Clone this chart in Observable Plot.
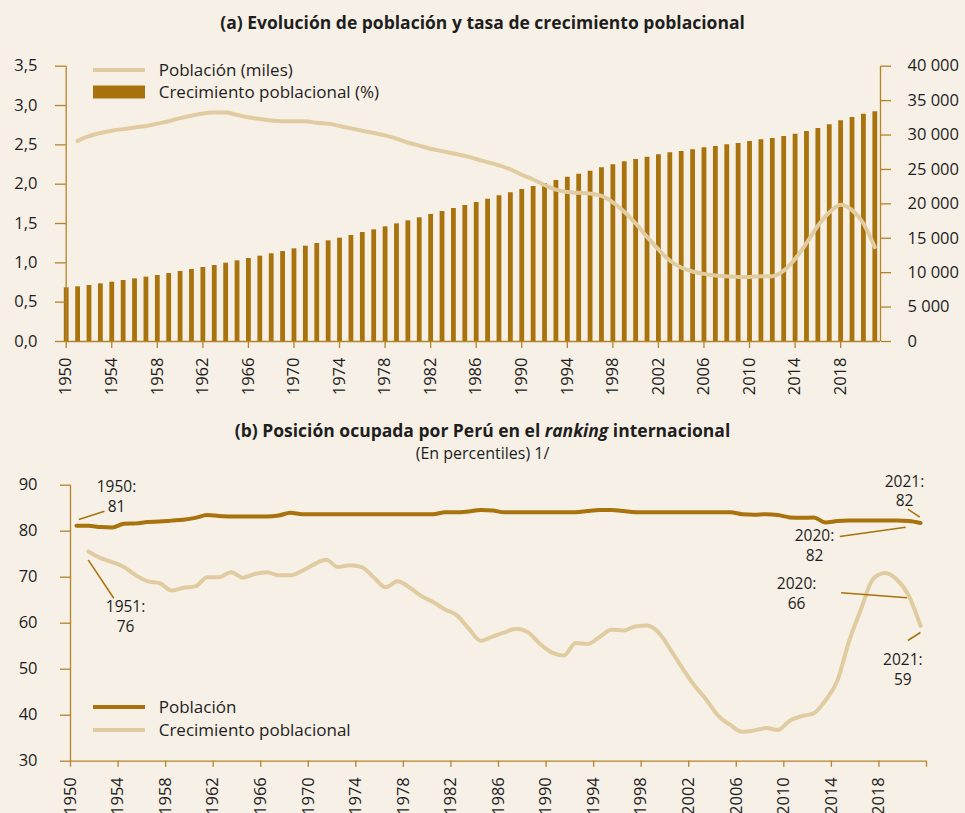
<!DOCTYPE html>
<html><head><meta charset="utf-8">
<script src="https://cdn.jsdelivr.net/npm/d3@7"></script>
<script src="https://cdn.jsdelivr.net/npm/@observablehq/plot@0.6"></script>
<style>
html,body{margin:0;padding:0;background:#F6F0E6;}
#root{position:relative;width:965px;height:813px;overflow:hidden;font-family:"Open Sans",sans-serif;color:#1e1e1e;}
.abs{position:absolute;}
.title{left:0;width:965px;text-align:center;font-weight:700;font-size:17.5px;line-height:24px;}
.sub{left:0;width:965px;text-align:center;font-size:16px;line-height:22px;}
.leg{font-size:17px;line-height:22px;display:flex;align-items:center;white-space:nowrap;}
.leg svg{margin-right:14px;}
</style></head>
<body><div id="root"></div>
<script>
// ---------- DATA ----------
const years = d3.range(1950, 2022);            // 1950..2021
const growthYears = d3.range(1951, 2022);      // 1951..2021
// Panel (a): población (miles) – bars, right axis
const poblacion = [7800, 7940, 8140, 8380, 8620, 8860, 9100, 9350, 9590, 9880,
  10170, 10460, 10750, 11040, 11380, 11720, 12060, 12400, 12740, 13070,
  13460, 13850, 14240, 14620, 15010, 15400, 15840, 16220, 16660, 17090,
  17530, 17970, 18450, 18890, 19320, 19760, 20190, 20680, 21160, 21600,
  22080, 22520, 22950, 23390, 23870, 24310, 24750, 25230, 25670, 26100,
  26440, 26780, 27120, 27410, 27600, 27850, 28140, 28330, 28570, 28770,
  29060, 29300, 29490, 29780, 30120, 30510, 30940, 31480, 32060, 32540,
  33030, 33370];
// Panel (a): tasa de crecimiento (%) – line, left axis (1951..2021)
const crecimiento = [2.55, 2.61, 2.65, 2.68, 2.70, 2.72, 2.74, 2.77, 2.80,
  2.84, 2.87, 2.90, 2.91, 2.91, 2.88, 2.85, 2.83, 2.81, 2.80,
  2.80, 2.80, 2.78, 2.77, 2.74, 2.71, 2.68, 2.65, 2.62, 2.58,
  2.53, 2.49, 2.45, 2.42, 2.39, 2.36, 2.32, 2.28, 2.24, 2.19,
  2.12, 2.06, 1.99, 1.93, 1.90, 1.89, 1.88, 1.85, 1.77, 1.65,
  1.50, 1.33, 1.17, 1.03, 0.94, 0.89, 0.86, 0.84, 0.83, 0.82,
  0.82, 0.83, 0.83, 0.90, 1.05, 1.25, 1.47, 1.64, 1.74, 1.67,
  1.50, 1.20];
// Panel (b): percentiles
const rankPoblacion = [81.2, 81.2, 80.9, 80.8, 81.6, 81.7, 82.0, 82.1, 82.3, 82.5,
  82.9, 83.5, 83.3, 83.2, 83.2, 83.2, 83.2, 83.4, 84.0, 83.7,
  83.7, 83.7, 83.7, 83.7, 83.7, 83.7, 83.7, 83.7, 83.7, 83.7,
  83.7, 84.1, 84.1, 84.3, 84.6, 84.5, 84.1, 84.1, 84.1, 84.1,
  84.1, 84.1, 84.1, 84.4, 84.6, 84.6, 84.4, 84.1, 84.1, 84.1,
  84.1, 84.1, 84.1, 84.1, 84.1, 84.1, 83.7, 83.6, 83.7, 83.5,
  83.0, 82.9, 83.0, 81.9, 82.2, 82.3, 82.3, 82.3, 82.3, 82.3,
  82.2, 81.8];
const rankCrecimiento = [75.6, 74.2, 73.3, 72.2, 70.4, 69.1, 68.7, 67.1, 67.7,
  68.0, 70.0, 70.0, 71.1, 69.9, 70.7, 71.1, 70.4, 70.4, 71.4,
  72.8, 73.8, 72.2, 72.6, 72.2, 70.0, 67.8, 69.1, 67.8, 65.9,
  64.6, 63.0, 61.7, 58.8, 56.2, 57.1, 58.0, 58.8, 58.0, 55.5,
  53.6, 53.0, 55.7, 55.5, 57.0, 58.6, 58.4, 59.3, 59.5, 57.9,
  54.1, 50.1, 46.4, 43.3, 39.8, 37.9, 36.4, 36.7, 37.2, 36.8,
  38.8, 39.8, 40.4, 43.2, 47.5, 56.2, 63.1, 69.6, 70.9, 69.5,
  66.0, 59.4];
const leftTicksA = [0, 0.5, 1, 1.5, 2, 2.5, 3, 3.5];
const rightTicksA = [0, 5000, 10000, 15000, 20000, 25000, 30000, 35000, 40000];
const xTicksA = d3.range(1950, 2019, 4);
const xTicksB = d3.range(1950, 2023, 4);
const yTicksB = [30, 40, 50, 60, 70, 80, 90];
// annotations (data coordinates)
const annotations = [
  {label: "1950:\n81", tx: 1953.87, ty: 87.65, x1: 1950.70, y1: 82.54, x2: 1952.86, y2: 84.35},
  {label: "1951:\n76", tx: 1954.63, ty: 61.67, x1: 1951.49, y1: 73.78, x2: 1953.64, y2: 65.43},
  {label: "2021:\n82", tx: 2020.15, ty: 88.91, x1: 2020.43, y1: 84.78, x2: 2021.44, y2: 83.04},
  {label: "2020:\n82", tx: 2012.58, ty: 77.11, x1: 2014.71, y1: 78.85, x2: 2020.24, y2: 80.87},
  {label: "2020:\n66", tx: 2011.07, ty: 66.57, x1: 2014.82, y1: 66.61, x2: 2020.37, y2: 65.52},
  {label: "2021:\n59", tx: 2020.01, ty: 50.15, x1: 2020.43, y1: 56.24, x2: 2021.49, y2: 57.98}
];

// ---------- STYLE ----------
const DARK = "#A8720C", LIGHT = "#E0CCA0", AXIS = "#B5842A", TXT = "#1e1e1e";
const loc = d3.formatLocale({decimal: ",", thousands: " ", grouping: [3], currency: ["", ""]});
const fmtLeft = loc.format(".1f");
const fmtRight = loc.format(",.0f");
const k = 3.5 / 40000;

const popData = years.map((y, i) => ({year: y, pop: poblacion[i]}));
const growthData = growthYears.map((y, i) => ({year: y, g: crecimiento[i]}));
const rankPob = years.map((y, i) => ({year: y, v: rankPoblacion[i]}));
const rankCre = growthYears.map((y, i) => ({year: y, v: rankCrecimiento[i]}));

const root = document.getElementById("root");

// ---------- PANEL (a) ----------
const plotA = Plot.plot({
  width: 965, height: 410,
  marginLeft: 65.7, marginRight: 85, marginTop: 65.7, marginBottom: 69,
  style: {background: "transparent", fontFamily: "Open Sans", fontSize: "16.5px", color: TXT, overflow: "visible"},
  x: {domain: [1950, 2021.5]},
  y: {domain: [0, 3.5]},
  marks: [
    Plot.ruleX(popData, {x: "year", y1: 0, y2: d => d.pop * k, stroke: DARK, strokeWidth: 4.8}),
    Plot.line(growthData, {x: "year", y: "g", stroke: LIGHT, strokeWidth: 4, curve: "monotone-x"}),
    Plot.ruleX([1950], {stroke: AXIS, strokeWidth: 1.3}),
    Plot.ruleX([2021.5], {stroke: AXIS, strokeWidth: 1.3}),
    Plot.ruleY([0], {stroke: AXIS, strokeWidth: 1.3}),
    Plot.axisY(leftTicksA, {anchor: "left", tickFormat: fmtLeft, tickSize: 10.7, tickPadding: 18, stroke: AXIS, strokeWidth: 1.3, label: null, fill: TXT}),
    Plot.axisY(rightTicksA.map(v => v * k), {anchor: "right", tickFormat: d => fmtRight(Math.round(d / k)), tickSize: 10, tickPadding: 17, stroke: AXIS, strokeWidth: 1.3, label: null, fill: TXT, textAnchor: "start"}),
    Plot.axisX(xTicksA, {anchor: "bottom", tickFormat: d => String(d), tickRotate: -90, tickSize: 7, tickPadding: 9, stroke: AXIS, strokeWidth: 1.3, label: null, fill: TXT})
  ]
});
plotA.style.position = "absolute"; plotA.style.left = "0px"; plotA.style.top = "0px";
root.appendChild(plotA);

// ---------- PANEL (b) ----------
const plotB = Plot.plot({
  width: 965, height: 403,
  marginLeft: 70, marginRight: 39, marginTop: 74.7, marginBottom: 52.3,
  style: {background: "transparent", fontFamily: "Open Sans", fontSize: "16.5px", color: TXT, overflow: "visible"},
  x: {domain: [1950, 2022]},
  y: {domain: [30, 90]},
  marks: [
    Plot.ruleX([1950], {stroke: AXIS, strokeWidth: 1.3}),
    Plot.ruleY([30], {stroke: AXIS, strokeWidth: 1.3}),
    Plot.axisY(yTicksB, {anchor: "left", tickSize: 10, tickPadding: 23, stroke: AXIS, strokeWidth: 1.3, label: null, fill: TXT}),
    Plot.axisX(xTicksB, {anchor: "bottom", tickFormat: d => d === 2022 ? "" : String(d), tickRotate: -90, tickSize: 6, tickPadding: 10, stroke: AXIS, strokeWidth: 1.3, label: null, fill: TXT}),
    Plot.line(rankPob, {x: d => d.year + 0.5, y: "v", stroke: DARK, strokeWidth: 4, curve: "monotone-x"}),
    Plot.line(rankCre, {x: d => d.year + 0.5, y: "v", stroke: LIGHT, strokeWidth: 4, curve: "monotone-x"}),
    Plot.link(annotations, {x1: "x1", y1: "y1", x2: "x2", y2: "y2", stroke: DARK, strokeWidth: 1.5}),
    Plot.text(annotations, {x: "tx", y: "ty", text: "label", fill: TXT, fontSize: 15.5, lineHeight: 1.27, textAnchor: "middle"})
  ]
});
plotB.style.position = "absolute"; plotB.style.left = "0px"; plotB.style.top = "410px";
root.appendChild(plotB);

// ---------- TITLES & LEGENDS ----------
function addDiv(cls, top, html, left) {
  const d = document.createElement("div");
  d.className = "abs " + cls;
  d.style.top = top + "px";
  if (left != null) d.style.left = left + "px";
  d.innerHTML = html;
  root.appendChild(d);
  return d;
}
addDiv("title", 10, "(a) Evolución de población y tasa de crecimiento poblacional");
addDiv("title", 418, "(b) Posición ocupada por Perú en el <i>ranking</i> internacional");
addDiv("sub", 442, "(En percentiles) 1/");

const lineSw = c => `<svg width="52" height="14"><line x1="0" x2="52" y1="7" y2="7" stroke="${c}" stroke-width="4"/></svg>`;
const rectSw = c => `<svg width="52" height="14"><rect x="0" y="0.5" width="52" height="13" fill="${c}"/></svg>`;
addDiv("leg", 59, lineSw(LIGHT) + "Población (miles)", 92.7);
addDiv("leg", 81, rectSw(DARK) + "Crecimiento poblacional (%)", 92.7);
addDiv("leg", 696, lineSw(DARK) + "Población", 92.7);
addDiv("leg", 719, lineSw(LIGHT) + "Crecimiento poblacional", 92.7);
</script>
</body></html>
